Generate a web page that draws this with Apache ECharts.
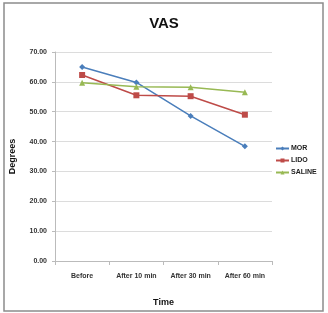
<!DOCTYPE html>
<html><head><meta charset="utf-8">
<script src="https://cdn.jsdelivr.net/npm/echarts@6/dist/echarts.min.js"></script>
<style>html,body{margin:0;padding:0;background:#fff}#c{width:328px;height:313px}</style>
</head><body><div id="c"></div>
<script>
const categories = ['Before', 'After 10 min', 'After 30 min', 'After 60 min'];
const morValues = [65.0, 59.8, 48.6, 38.4];
const lidoValues = [62.3, 55.5, 55.2, 49.0];
const salineValues = [59.7, 58.4, 58.2, 56.5];
const yTicks = [0, 10, 20, 30, 40, 50, 60, 70];

const chart = echarts.init(document.getElementById('c'));
const lbl = {fontFamily: 'Liberation Sans, Arial', fontSize: 7, fontWeight: 'bold', color: '#333'};
chart.setOption({
  animation: false,
  graphic: [{type: 'rect', shape: {x: 4, y: 3, width: 319, height: 308}, style: {fill: 'none', stroke: '#8c8c8c', lineWidth: 1.5}}],
  title: {text: 'VAS', left: 'center', top: 11, textStyle: {fontFamily: 'Liberation Sans, Arial', fontSize: 15, fontWeight: 'bold', color: '#111'}},
  grid: {left: 55, right: 56, top: 52, bottom: 52},
  legend: {
    orient: 'vertical', left: 270, top: 140, itemWidth: 13, itemHeight: 5, itemGap: 5,
    textStyle: {fontFamily: 'Liberation Sans, Arial', fontSize: 7, fontWeight: 'bold', color: '#222', padding: [0, 0, 0, -3]},
    data: ['MOR', 'LIDO', 'SALINE']
  },
  xAxis: {
    type: 'category', data: categories, boundaryGap: true,
    name: 'Time', nameLocation: 'middle', nameGap: 37,
    nameTextStyle: {fontFamily: 'Liberation Sans, Arial', fontSize: 9, fontWeight: 'bold', color: '#111'},
    axisLine: {lineStyle: {color: '#bbb'}},
    axisTick: {show: true, length: 4, lineStyle: {color: '#bbb'}},
    axisLabel: Object.assign({margin: 12, interval: 0}, lbl)
  },
  yAxis: {
    type: 'value', min: 0, max: 70, interval: 10,
    name: 'Degrees', nameLocation: 'middle', nameGap: 38,
    nameTextStyle: {fontFamily: 'Liberation Sans, Arial', fontSize: 9, fontWeight: 'bold', color: '#111'},
    axisLine: {show: true, lineStyle: {color: '#bbb'}},
    axisTick: {show: true, length: 3, lineStyle: {color: '#bbb'}},
    splitLine: {lineStyle: {color: '#dcdcdc'}},
    axisLabel: Object.assign({margin: 8, formatter: v => yTicks.includes(v) ? v.toFixed(2) : ''}, lbl)
  },
  series: [
    {name: 'MOR', type: 'line', data: morValues, symbol: 'diamond', symbolSize: 6, color: '#4a7ebb', lineStyle: {width: 1.5}},
    {name: 'LIDO', type: 'line', data: lidoValues, symbol: 'rect', symbolSize: 6, color: '#be4b48', lineStyle: {width: 1.5}},
    {name: 'SALINE', type: 'line', data: salineValues, symbol: 'triangle', symbolSize: 6, color: '#98b954', lineStyle: {width: 1.5}}
  ]
});
</script></body></html>
